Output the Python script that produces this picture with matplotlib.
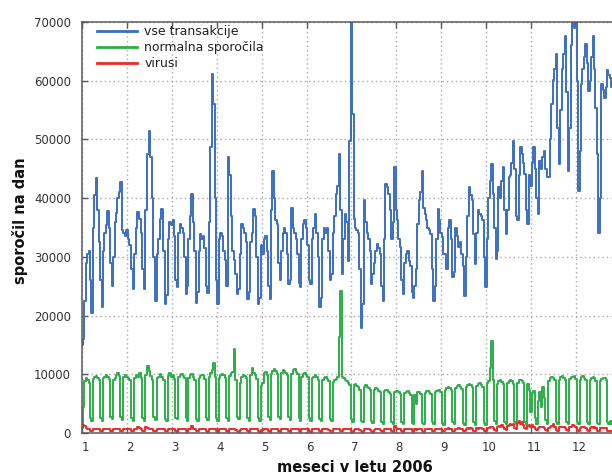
import numpy as np
import pandas as pd
import matplotlib
matplotlib.use("Agg")
import matplotlib.pyplot as plt
from matplotlib.transforms import ScaledTranslation

# Daily message counts for 2006, one row per week (Mon..Sun).
# First row holds Sunday, January 1; last row holds December 25-26.
vse_transakcije = [
    [15000],
    [16000, 22500, 29000, 30500, 31000, 26000, 20500],
    [35000, 40500, 43500, 38000, 32500, 26000, 21500],
    [31000, 34000, 35500, 37800, 35000, 29000, 25000],
    [30000, 36000, 37500, 40000, 41000, 42800, 34500],
    [34000, 33500, 34500, 33000, 32000, 28000, 24500],
    [30500, 35000, 37600, 36500, 34000, 28000, 24500],
    [38000, 47500, 51500, 47000, 40000, 30000, 22500],
    [30500, 33000, 36500, 38200, 31000, 22000, 23500],
    [33000, 36000, 35500, 36200, 33500, 26000, 24800],
    [34000, 35600, 35000, 34000, 30000, 23600, 25000],
    [33000, 37000, 40700, 36000, 31000, 22200, 24000],
    [31000, 33900, 33000, 33500, 31500, 25000, 23900],
    [36000, 48700, 61200, 56000, 40000, 26000, 21900],
    [33000, 34000, 33500, 31000, 29500, 25000, 47000],
    [44000, 37000, 31000, 29500, 27000, 23600, 24500],
    [30500, 35600, 35000, 34000, 32500, 22800, 24000],
    [32500, 34000, 38200, 37000, 30000, 22000, 23000],
    [32000, 30500, 33000, 33500, 31000, 25000, 22800],
    [38000, 44700, 40000, 36200, 35600, 29000, 26000],
    [31000, 34000, 35000, 34000, 30500, 25300, 26000],
    [38400, 35000, 34000, 33000, 30500, 25500, 24800],
    [33000, 35600, 36200, 35000, 32000, 26000, 25300],
    [33000, 35000, 37300, 34000, 30000, 21400, 23000],
    [33000, 35000, 34000, 35000, 31000, 26000, 27000],
    [34000, 37000, 40700, 42000, 47500, 38000, 27000],
    [33000, 37300, 36000, 29300, 49800, 74000, 54400],
    [36500, 35000, 34500, 34000, 28000, 17900, 22000],
    [39600, 36000, 34000, 33000, 31000, 25300, 27000],
    [29000, 31000, 32200, 31500, 30500, 25000, 22500],
    [33000, 42400, 41900, 40700, 38000, 33000, 36000],
    [45300, 38000, 36200, 33000, 31600, 26000, 23600],
    [29000, 30500, 31000, 29300, 28500, 24000, 23000],
    [25000, 28000, 35600, 39600, 41000, 44700, 38400],
    [37300, 36200, 35000, 34500, 33900, 28000, 22500],
    [25000, 33000, 38200, 36200, 34000, 33300, 30500],
    [30500, 28000, 35000, 36200, 33000, 26500, 27500],
    [35000, 33500, 31600, 32500, 30500, 28500, 23400],
    [30000, 37000, 41900, 40500, 39600, 33900, 28800],
    [34000, 37900, 37300, 37000, 36200, 30000, 24800],
    [33000, 40100, 43000, 45800, 40700, 35000, 29600],
    [31000, 41900, 40000, 43000, 45300, 38000, 33900],
    [38000, 43600, 44000, 46000, 49800, 45000, 37000],
    [36200, 44000, 48700, 47500, 46000, 44100, 38000],
    [35600, 44000, 42000, 46000, 48700, 45000, 40000],
    [37300, 46400, 45000, 47000, 48100, 45000, 43600],
    [43600, 50000, 56000, 60100, 62000, 64600, 52000],
    [45800, 55000, 62000, 64500, 67700, 58000, 44700],
    [52000, 66000, 71500, 69000, 70500, 60000, 41300],
    [48000, 59500, 62000, 64000, 66300, 63000, 58300],
    [60000, 64000, 67700, 62000, 55400, 47500, 34000],
    [40000, 59500, 58400, 57000, 59000, 61800, 61000],
    [60500, 59000],
]

normalna_sporocila = [
    [1200],
    [4500, 8900, 9300, 9000, 8500, 2600, 2000],
    [9200, 9500, 9700, 9400, 9000, 2500, 2100],
    [9300, 9600, 9800, 9500, 9200, 2700, 2300],
    [9000, 9400, 9900, 10300, 9700, 2800, 2200],
    [9500, 9800, 9600, 9300, 9000, 2600, 2000],
    [9400, 9900, 9500, 10200, 9300, 2500, 2100],
    [9800, 11400, 10500, 9700, 9100, 2700, 2200],
    [9300, 9600, 10000, 9500, 9000, 2400, 2000],
    [9700, 10300, 9600, 9800, 9200, 2600, 2300],
    [9500, 9900, 10100, 9700, 9300, 2500, 2100],
    [9400, 9800, 10000, 9600, 9100, 2400, 2000],
    [9300, 9700, 9900, 9800, 9200, 2500, 2200],
    [9600, 10200, 10800, 12000, 9500, 2600, 2100],
    [9400, 9800, 10100, 9900, 9300, 2500, 2000],
    [9700, 10200, 10400, 14300, 9000, 2800, 2300],
    [8500, 9600, 9900, 9700, 9400, 2600, 2100],
    [9800, 11100, 10300, 9900, 9200, 2500, 2000],
    [8000, 8500, 10200, 10400, 9800, 2700, 2200],
    [10000, 10600, 10900, 10500, 10100, 2800, 2300],
    [10200, 10800, 10600, 10300, 9900, 2700, 2200],
    [10100, 10700, 10900, 10400, 10000, 2600, 2100],
    [9600, 10000, 10200, 9900, 9500, 2500, 2100],
    [9300, 9600, 9800, 9500, 9100, 2400, 2000],
    [9000, 9400, 9500, 9200, 8800, 2300, 2000],
    [8700, 9000, 9200, 9600, 16300, 24200, 9500],
    [9400, 9000, 8800, 8500, 8200, 2300, 1900],
    [8100, 8300, 8000, 7800, 7400, 2100, 1800],
    [7800, 8100, 7900, 7600, 7300, 2000, 1700],
    [7400, 7600, 7500, 7200, 6900, 1900, 1600],
    [7200, 7400, 7300, 7000, 6700, 1800, 1600],
    [7000, 7200, 7100, 6900, 6600, 1800, 1500],
    [6800, 7000, 7100, 6800, 6500, 1700, 1500],
    [6500, 5000, 6900, 7000, 6700, 1700, 1500],
    [6800, 7100, 7200, 7000, 6600, 1800, 1500],
    [6900, 7200, 7400, 7300, 7000, 1700, 1400],
    [7400, 7700, 7900, 7600, 7300, 1800, 1500],
    [7700, 8000, 8200, 7900, 7500, 1700, 1400],
    [7900, 8200, 8400, 8100, 7800, 1800, 1300],
    [8000, 8300, 8500, 8200, 7900, 1700, 1400],
    [8500, 8900, 11000, 15700, 9000, 2000, 1600],
    [8400, 8800, 9000, 8700, 8300, 1800, 1500],
    [8500, 8900, 9100, 8800, 8400, 1900, 1500],
    [8600, 9000, 9100, 8900, 8500, 1800, 1400],
    [8300, 7400, 3500, 6800, 7200, 2500, 1600],
    [5500, 7000, 4500, 7800, 6000, 2200, 1500],
    [8900, 9400, 9600, 9300, 9000, 1900, 1600],
    [9000, 9500, 9700, 9400, 9100, 1800, 1500],
    [9200, 9600, 9500, 9700, 9200, 1900, 1600],
    [9100, 9500, 9700, 9400, 9000, 1800, 1500],
    [9000, 9400, 9600, 9300, 8900, 1700, 1500],
    [8800, 9200, 9400, 9300, 9000, 1800, 1500],
    [2000, 1500],
]

virusi = [
    [900],
    [1400, 1200, 900, 700, 650, 400, 350],
    [700, 750, 650, 700, 600, 350, 300],
    [650, 700, 750, 650, 600, 350, 300],
    [700, 650, 700, 750, 650, 350, 300],
    [650, 700, 650, 600, 650, 300, 300],
    [700, 750, 1000, 800, 650, 350, 300],
    [950, 800, 750, 700, 650, 350, 300],
    [700, 650, 700, 650, 600, 300, 300],
    [650, 700, 650, 700, 600, 300, 250],
    [600, 650, 700, 650, 600, 300, 250],
    [650, 700, 1200, 750, 650, 350, 300],
    [600, 650, 700, 650, 600, 300, 250],
    [650, 700, 750, 700, 650, 300, 250],
    [600, 650, 700, 650, 600, 300, 250],
    [650, 700, 650, 600, 550, 300, 250],
    [550, 650, 700, 650, 600, 300, 250],
    [600, 650, 700, 650, 600, 300, 250],
    [500, 550, 650, 650, 600, 300, 250],
    [650, 700, 650, 700, 600, 300, 250],
    [600, 650, 700, 650, 600, 300, 250],
    [650, 600, 650, 700, 600, 300, 250],
    [600, 650, 650, 700, 600, 300, 250],
    [650, 600, 700, 650, 600, 300, 250],
    [600, 650, 600, 650, 550, 300, 250],
    [600, 650, 700, 650, 600, 350, 300],
    [600, 650, 600, 650, 600, 300, 250],
    [550, 600, 650, 600, 550, 300, 250],
    [600, 650, 600, 650, 550, 300, 250],
    [550, 600, 650, 600, 550, 300, 250],
    [600, 650, 600, 650, 600, 300, 250],
    [1200, 900, 700, 650, 600, 300, 250],
    [650, 700, 650, 600, 600, 300, 250],
    [600, 550, 650, 700, 650, 300, 250],
    [650, 700, 750, 700, 650, 350, 300],
    [700, 750, 700, 750, 700, 350, 300],
    [750, 700, 800, 750, 700, 350, 300],
    [700, 750, 800, 700, 750, 350, 300],
    [750, 800, 750, 800, 700, 350, 300],
    [800, 750, 800, 850, 750, 400, 300],
    [850, 900, 1000, 950, 850, 450, 350],
    [1000, 1200, 1100, 1300, 1100, 600, 500],
    [1200, 1400, 1500, 1300, 1600, 900, 700],
    [1700, 2100, 1500, 1800, 1400, 900, 700],
    [1200, 1400, 1100, 1300, 1000, 600, 500],
    [900, 1000, 1100, 950, 850, 450, 400],
    [900, 1000, 1200, 1500, 1100, 500, 400],
    [950, 1100, 1000, 1050, 900, 450, 400],
    [1000, 1100, 1400, 1200, 1000, 500, 400],
    [900, 1000, 950, 1000, 900, 450, 400],
    [850, 950, 900, 950, 850, 400, 350],
    [800, 900, 850, 900, 800, 400, 350],
    [400, 350],
]

month_ticks = list(range(1, 13))
y_ticks = list(range(0, 70001, 10000))

labels = ["vse transakcije", "normalna sporočila", "virusi"]
colors = ["#3c6fc0", "#2eae4a", "#ec2a2a"]


def flatten(weeks):
    return np.array([v for week in weeks for v in week], dtype=float)


series = [flatten(vse_transakcije), flatten(normalna_sporocila), flatten(virusi)]

# position of each day on the month axis: month + fraction of the month
dates = pd.date_range("2006-01-01", periods=len(series[0]), freq="D")
xpos = np.asarray(dates.month + (dates.day - 1) / dates.days_in_month, dtype=float)

W, H = 612, 475
fig = plt.figure(figsize=(W / 100, H / 100), dpi=100)
ax = fig.add_axes([82 / W, 1 - 433 / H, 1 - 82 / W, (433 - 22) / H])

for y, lab, col in zip(series, labels, colors):
    ax.plot(xpos, y, drawstyle="steps-mid", color=col, lw=1.4, label=lab)

ax.set_xlim(1, 1 + (W - 82) / 44.9)
ax.set_ylim(0, 70000)
ax.set_xticks(month_ticks)
ax.set_yticks(y_ticks)
ax.set_xticklabels([str(m) for m in month_ticks])
ax.set_yticklabels([str(v) for v in y_ticks])

ax.grid(True, color="#a8a8a8", linestyle=(0, (1, 2.2)), linewidth=1.0)
ax.set_axisbelow(True)

for side in ["left", "bottom", "top"]:
    ax.spines[side].set_color("#5a5a5a")
    ax.spines[side].set_linewidth(1.1)
ax.spines["right"].set_visible(False)

ax.tick_params(axis="both", direction="in", length=4, width=1, color="#5a5a5a",
               labelsize=8.5, labelcolor="#333333", top=True)
ax.tick_params(axis="y", pad=8)
ax.tick_params(axis="x", pad=6)
shift = ScaledTranslation(3 / 100, 0, fig.dpi_scale_trans)
for lbl in ax.get_xticklabels():
    lbl.set_transform(lbl.get_transform() + shift)

leg = ax.legend(loc="upper left", bbox_to_anchor=(97 / W, 1 - 25 / H),
                bbox_transform=fig.transFigure, frameon=False, fontsize=9,
                handlelength=3.2, handletextpad=0.6, labelspacing=0.25,
                borderpad=0, borderaxespad=0)
for line in leg.get_lines():
    line.set_linewidth(2.0)
for t in leg.get_texts():
    t.set_color("#222222")

fig.text(20 / W, 1 - 221 / H, "sporočil na dan", rotation=90, ha="center",
         va="center", fontsize=10.5, fontweight="bold", color="#111111")
fig.text(355 / W, 1 - 467 / H, "meseci v letu 2006", ha="center",
         va="center", fontsize=10.5, fontweight="bold", color="#111111")

fig.savefig("out.png", dpi=100)
